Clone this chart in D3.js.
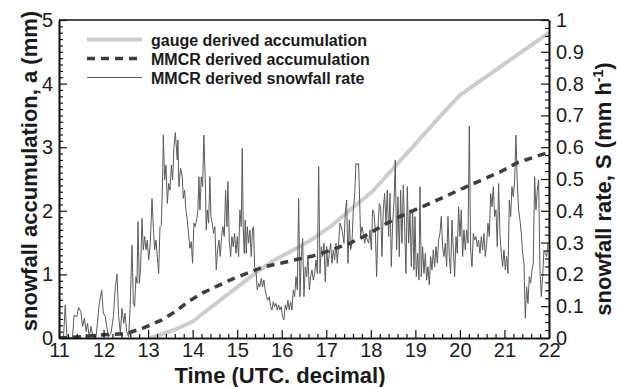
<!DOCTYPE html>
<html>
<head>
<meta charset="utf-8">
<script src="https://cdn.jsdelivr.net/npm/d3@7/dist/d3.min.js"></script>
<style>
  html, body { margin: 0; padding: 0; background: #ffffff; }
  svg { display: block; }
  text { font-family: "Liberation Sans", Arial, Helvetica, sans-serif; }
</style>
</head>
<body>
<svg id="chart" width="617" height="387"></svg>
<script>
// Time axis (UTC, decimal hours)
const timeTicks = [11, 12, 13, 14, 15, 16, 17, 18, 19, 20, 21, 22];
const accumTicks = [0, 1, 2, 3, 4, 5];
const rateTicks = [0, 0.1, 0.2, 0.3, 0.4, 0.5, 0.6, 0.7, 0.8, 0.9, 1];

const legendLabels = [
  "gauge derived accumulation",
  "MMCR derived accumulation",
  "MMCR derived snowfall rate"
];

// Gauge derived accumulation, [time, mm]
const gaugeAccum = [
  [13.05, 0.00], [13.6, 0.13], [14.0, 0.26], [14.33, 0.44], [15.0, 0.80],
  [15.45, 1.04], [15.82, 1.22], [16.25, 1.38], [16.68, 1.55], [17.13, 1.77],
  [17.58, 2.04], [18.03, 2.30], [18.47, 2.64], [18.97, 3.03], [19.55, 3.48],
  [20.0, 3.82], [22.0, 4.80]
];

// MMCR derived accumulation, [time, mm]
const mmcrAccum = [
  [11.0, 0.0], [11.5, 0.02], [12.0, 0.05], [12.5, 0.07], [12.6, 0.09],
  [12.9, 0.16], [13.3, 0.28], [13.6, 0.41], [13.9, 0.57], [14.2, 0.70],
  [14.5, 0.80], [14.9, 0.93], [15.6, 1.12], [16.0, 1.18], [16.3, 1.23],
  [16.7, 1.29], [17.1, 1.38], [17.5, 1.48], [17.85, 1.60], [18.3, 1.78],
  [18.65, 1.91], [19.4, 2.14], [20.15, 2.38], [20.9, 2.61], [21.3, 2.76],
  [22.0, 2.92]
];

// MMCR derived snowfall rate, [time, mm h-1]
const mmcrRate = [
  [11.00,0.000],[11.10,0.000],[11.14,0.104],[11.18,0.000],[11.22,0.003],[11.30,0.000],
  [11.34,0.072],[11.40,0.067],[11.44,0.096],[11.49,0.083],[11.53,0.036],[11.57,0.062],
  [11.61,0.020],[11.64,0.046],[11.68,0.004],[11.72,0.036],[11.76,0.004],[11.83,0.002],
  [11.905,0.109],[11.958,0.151],[11.995,0.078],[12.040,0.067],[12.070,0.036],[12.115,0.004],
  [12.167,0.015],[12.220,0.067],[12.265,0.161],[12.302,0.201],[12.339,0.067],[12.377,0.015],
  [12.414,0.093],[12.452,0.046],[12.481,0.078],[12.519,0.020],[12.564,0.004],[12.594,0.088],
  [12.639,0.292],[12.669,0.109],[12.698,0.099],[12.728,0.193],[12.751,0.172],[12.773,0.366],
  [12.803,0.172],[12.833,0.224],[12.863,0.376],[12.893,0.277],[12.923,0.319],[12.953,0.277],
  [12.983,0.308],[13.013,0.245],[13.050,0.298],[13.088,0.439],[13.117,0.350],[13.147,0.277],
  [13.177,0.308],[13.207,0.256],[13.237,0.203],[13.267,0.350],[13.297,0.355],[13.327,0.507],
  [13.342,0.638],[13.372,0.497],[13.402,0.544],[13.432,0.423],[13.462,0.486],[13.492,0.465],
  [13.522,0.544],[13.551,0.497],[13.581,0.602],[13.611,0.646],
  [13.655,0.560],[13.670,0.623],[13.692,0.476],[13.730,0.534],[13.767,0.507],[13.790,0.439],
  [13.819,0.465],[13.849,0.403],[13.879,0.371],[13.909,0.329],[13.939,0.282],[13.969,0.303],
  [13.999,0.235],[14.029,0.361],[14.059,0.350],[14.089,0.371],[14.119,0.403],[14.141,0.507],
  [14.164,0.403],[14.194,0.507],[14.223,0.476],[14.253,0.638],[14.283,0.497],[14.306,0.340],
  [14.328,0.403],[14.358,0.361],[14.388,0.507],[14.411,0.382],[14.440,0.361],[14.470,0.329],
  [14.500,0.350],[14.530,0.214],[14.560,0.277],[14.590,0.308],[14.620,0.256],[14.650,0.319],
  [14.680,0.350],[14.710,0.319],[14.740,0.465],[14.770,0.350],[14.792,0.492],[14.822,0.308],
  [14.852,0.256],[14.882,0.319],[14.912,0.287],[14.942,0.329],[14.972,0.266],[15.002,0.319],
  [15.032,0.256],[15.061,0.403],[15.091,0.350],[15.114,0.596],[15.136,0.350],[15.159,0.266],
  [15.181,0.371],[15.204,0.266],[15.226,0.350],[15.256,0.298],[15.286,0.340],[15.316,0.256],
  [15.346,0.345],[15.368,0.350],[15.391,0.224],[15.421,0.214],[15.451,0.151],[15.481,0.172],
  [15.510,0.161],[15.540,0.188],[15.570,0.161],[15.600,0.182],[15.630,0.151],[15.660,0.130],
  [15.690,0.119],[15.720,0.130],[15.750,0.099],[15.780,0.088],[15.810,0.114],[15.840,0.099],
  [15.870,0.109],[15.900,0.088],[15.929,0.104],[15.959,0.088],[15.989,0.099],[16.019,0.067],
  [16.049,0.057],[16.079,0.104],[16.109,0.088],[16.139,0.119],[16.169,0.088],[16.199,0.114],
  [16.229,0.088],
  [16.260,0.151],[16.290,0.130],[16.320,0.193],[16.350,0.151],[16.380,0.439],[16.410,0.130],
  [16.440,0.256],[16.469,0.313],[16.499,0.130],[16.529,0.224],[16.559,0.193],[16.589,0.256],
  [16.619,0.151],[16.649,0.193],[16.679,0.214],[16.709,0.182],[16.739,0.203],[16.769,0.245],
  [16.799,0.203],[16.829,0.539],[16.859,0.203],[16.888,0.287],[16.918,0.256],[16.948,0.298],
  [16.978,0.177],[17.008,0.287],[17.038,0.224],[17.068,0.266],[17.098,0.298],[17.128,0.235],
  [17.158,0.277],[17.188,0.245],[17.218,0.298],[17.248,0.235],[17.278,0.298],[17.307,0.361],
  [17.337,0.350],[17.367,0.329],[17.397,0.298],[17.427,0.392],[17.457,0.434],[17.487,0.235],
  [17.517,0.371],[17.547,0.277],[17.577,0.298],[17.607,0.403],[17.637,0.450],[17.667,0.549],
  [17.697,0.544],[17.726,0.549],[17.749,0.434],[17.771,0.319],[17.801,0.350],[17.831,0.329],
  [17.861,0.298],[17.891,0.319],[17.921,0.308],[17.951,0.298],[17.981,0.340],[18.011,0.277],
  [18.041,0.403],[18.071,0.392],[18.101,0.340],[18.130,0.193],[18.160,0.340],[18.190,0.423],
  [18.220,0.413],[18.250,0.256],[18.280,0.403],[18.310,0.455],[18.340,0.361],[18.370,0.465],
  [18.400,0.319],[18.430,0.455],[18.460,0.224],[18.490,0.361],[18.520,0.423],[18.549,0.560],
  [18.579,0.277],[18.609,0.444],[18.639,0.256],[18.669,0.465],[18.699,0.298],[18.729,0.481],
  [18.759,0.350],[18.789,0.203],[18.819,0.476],[18.849,0.298],[18.879,0.403],
  [18.909,0.224],[18.939,0.403],[18.969,0.214],[18.991,0.382],[19.021,0.193],[19.051,0.266],
  [19.081,0.182],[19.103,0.476],[19.133,0.193],[19.163,0.287],[19.193,0.203],[19.223,0.266],
  [19.253,0.182],[19.283,0.224],[19.313,0.167],[19.343,0.256],[19.373,0.214],[19.403,0.277],
  [19.433,0.224],[19.463,0.287],[19.493,0.235],[19.522,0.308],[19.552,0.329],[19.582,0.382],
  [19.612,0.287],[19.642,0.256],[19.672,0.298],[19.702,0.224],[19.732,0.382],[19.762,0.256],
  [19.792,0.203],[19.822,0.371],[19.852,0.277],[19.882,0.193],[19.912,0.319],[19.941,0.266],
  [19.971,0.413],[20.001,0.319],[20.031,0.403],[20.061,0.256],[20.091,0.340],[20.121,0.277],
  [20.151,0.340],[20.181,0.298],[20.211,0.667],[20.241,0.277],[20.271,0.224],[20.301,0.329],
  [20.331,0.308],[20.360,0.319],[20.390,0.287],[20.420,0.308],[20.450,0.266],[20.480,0.319],
  [20.510,0.277],[20.540,0.329],[20.570,0.256],[20.600,0.298],[20.630,0.361],[20.660,0.319],
  [20.690,0.455],[20.720,0.413],[20.750,0.476],[20.779,0.382],[20.809,0.403],[20.839,0.287],
  [20.869,0.486],[20.899,0.329],[20.929,0.266],[20.959,0.224],[20.989,0.277],[21.019,0.214],
  [21.049,0.256],[21.079,0.203],[21.109,0.434],[21.139,0.382],[21.169,0.476],[21.198,0.444],
  [21.228,0.492],[21.258,0.638],[21.288,0.486],[21.318,0.403],[21.348,0.371],[21.378,0.329],
  [21.408,0.266],[21.438,0.235],[21.468,0.062],[21.498,0.161],[21.528,0.109],[21.558,0.193],
  [21.588,0.172],[21.617,0.214],[21.647,0.235],[21.677,0.507],[21.707,0.403],[21.737,0.465],
  [21.767,0.497],[21.797,0.214],[21.827,0.130],[21.857,0.193],[21.887,0.277],[21.917,0.266],
  [21.947,0.256],[21.980,0.300]
];

const svg = d3.select("#chart");
const W = 617, H = 387;
const margin = { top: 20, right: 68, bottom: 49, left: 59 };
const innerL = margin.left, innerR = W - margin.right;
const innerT = margin.top, innerB = H - margin.bottom;

svg.append("rect").attr("width", W).attr("height", H).attr("fill", "#ffffff");

const x = d3.scaleLinear().domain([11, 22]).range([innerL, innerR]);
const yA = d3.scaleLinear().domain([0, 5]).range([innerB, innerT]);
const yR = d3.scaleLinear().domain([0, 1]).range([innerB, innerT]);

const plot = svg.append("g");
plot.append("clipPath").attr("id", "plotclip")
  .append("rect").attr("x", innerL).attr("y", innerT - 2)
  .attr("width", innerR - innerL).attr("height", innerB - innerT + 2);

const clipped = plot.append("g").attr("clip-path", "url(#plotclip)");

const lineA = d3.line().x(d => x(d[0])).y(d => yA(d[1]));
const lineR = d3.line().x(d => x(d[0])).y(d => yR(d[1]));

// gauge accumulation: wide light gray
clipped.append("path").datum(gaugeAccum)
  .attr("d", lineA).attr("fill", "none")
  .attr("stroke", "#cdcdcd").attr("stroke-width", 4).attr("stroke-linejoin", "round");

// snowfall rate: thin gray
clipped.append("path").datum(mmcrRate)
  .attr("d", lineR).attr("fill", "none")
  .attr("stroke", "#5a5a5a").attr("stroke-width", 1).attr("stroke-linejoin", "round");

// MMCR accumulation: dark dashed
clipped.append("path").datum(mmcrAccum)
  .attr("d", lineA).attr("fill", "none")
  .attr("stroke", "#3d3d3d").attr("stroke-width", 3.5)
  .attr("stroke-dasharray", "8,6");

// axes with inward ticks
const tickFont = 20;
function styleAxis(g) {
  g.selectAll("path.domain").attr("stroke", "#111").attr("stroke-width", 1.6);
  g.selectAll(".tick line").attr("stroke", "#111").attr("stroke-width", 1.2);
  g.selectAll(".tick text").attr("fill", "#1c1c1c")
    .style("font-size", tickFont + "px")
    .style("font-family", '"Liberation Sans", Arial, sans-serif');
}

const minorTime = d3.range(11, 22.001, 0.2).filter(v => Math.abs(v - Math.round(v)) > 1e-6);
const minorAccum = d3.range(0, 5.001, 0.1).filter(v => Math.abs(v - Math.round(v)) > 1e-6);
const minorRate = d3.range(0, 1.0001, 0.025).filter(v => Math.abs(v * 10 - Math.round(v * 10)) > 1e-6);

// bottom
svg.append("g").attr("transform", `translate(0,${innerB})`)
  .call(d3.axisBottom(x).tickValues(minorTime).tickSize(-4).tickSizeOuter(0).tickFormat(() => ""))
  .call(styleAxis);
svg.append("g").attr("transform", `translate(0,${innerB})`)
  .call(d3.axisBottom(x).tickValues(timeTicks).tickSize(-8).tickSizeOuter(0).tickPadding(5)
    .tickFormat(d3.format("d")))
  .call(styleAxis);

// left
svg.append("g").attr("transform", `translate(${innerL},0)`)
  .call(d3.axisLeft(yA).tickValues(minorAccum).tickSize(-4).tickSizeOuter(0).tickFormat(() => ""))
  .call(styleAxis);
svg.append("g").attr("transform", `translate(${innerL},0)`)
  .call(d3.axisLeft(yA).tickValues(accumTicks).tickSize(-8).tickSizeOuter(0).tickPadding(6)
    .tickFormat(d3.format("d")))
  .call(styleAxis);

// right
const rateFmt = d => (d === 0 || d === 1) ? String(d) : d3.format(".1f")(d);
svg.append("g").attr("transform", `translate(${innerR},0)`)
  .call(d3.axisRight(yR).tickValues(minorRate).tickSize(-4).tickSizeOuter(0).tickFormat(() => ""))
  .call(styleAxis);
svg.append("g").attr("transform", `translate(${innerR},0)`)
  .call(d3.axisRight(yR).tickValues(rateTicks).tickSize(-8).tickSizeOuter(0).tickPadding(7)
    .tickFormat(rateFmt))
  .call(styleAxis);

// top frame
svg.append("line").attr("x1", innerL).attr("x2", innerR)
  .attr("y1", innerT).attr("y2", innerT)
  .attr("stroke", "#111").attr("stroke-width", 1.6);

// axis titles
const titleStyle = s => s.attr("fill", "#1a1a1a").style("font-size", "22px").style("font-weight", "bold");

svg.append("text")
  .attr("transform", "translate(37,171) rotate(-90)")
  .attr("text-anchor", "middle")
  .call(titleStyle)
  .text("snowfall accumulation, a (mm)");

const rt = svg.append("text")
  .attr("transform", "translate(611,189) rotate(-90)")
  .attr("text-anchor", "middle")
  .call(titleStyle);
rt.append("tspan").text("snowfall rate, S (mm h");
rt.append("tspan").attr("dy", -8).style("font-size", "14px").text("-1");
rt.append("tspan").attr("dy", 8).text(")");

svg.append("text")
  .attr("x", 280).attr("y", 383)
  .attr("text-anchor", "middle")
  .call(titleStyle)
  .text("Time (UTC. decimal)");

// legend
const legendStyles = [
  { stroke: "#cdcdcd", width: 4, dash: null },
  { stroke: "#3d3d3d", width: 3.5, dash: "8,6" },
  { stroke: "#5a5a5a", width: 1, dash: null }
];
const legendY = d3.scalePoint().domain(legendLabels).range([39.5, 77.5]);
const leg = svg.append("g");
legendLabels.forEach((lab, i) => {
  const y = legendY(lab);
  leg.append("line").attr("x1", 87).attr("x2", 142).attr("y1", y).attr("y2", y)
    .attr("stroke", legendStyles[i].stroke).attr("stroke-width", legendStyles[i].width)
    .attr("stroke-dasharray", legendStyles[i].dash);
  leg.append("text").attr("x", 151).attr("y", y + 6)
    .attr("fill", "#1a1a1a").style("font-size", "16px").style("font-weight", "bold")
    .text(lab);
});
</script>
</body>
</html>
